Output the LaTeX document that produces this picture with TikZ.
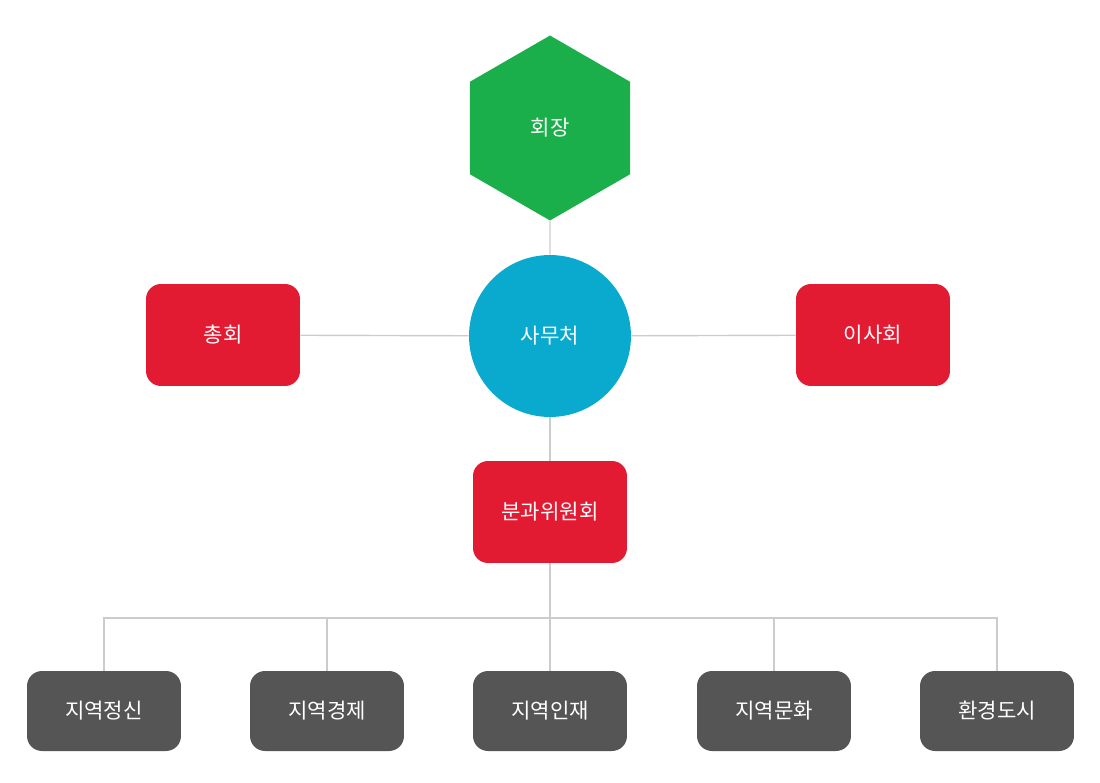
\documentclass[tikz,border=0pt]{standalone}
\usepackage{fontspec}
\setmainfont{Noto Sans CJK KR}
\usetikzlibrary{shapes.geometric}
\definecolor{hexGreen}{HTML}{1BAF4B}
\definecolor{officeBlue}{HTML}{0AAACF}
\definecolor{boardRed}{HTML}{E31B32}
\definecolor{teamGray}{HTML}{555555}
\definecolor{lineGray}{HTML}{CCCCCC}
\begin{document}
\begin{tikzpicture}[x=0.02cm,y=-0.02cm]
\tikzstyle{base}=[text=white,font=\fontsize{12}{14}\selectfont,inner sep=0pt]
\tikzstyle{boxRed}=[base,fill=boardRed,rounded corners=0.3cm,minimum width=3.08cm,minimum height=2.04cm]
\tikzstyle{boxGray}=[base,fill=teamGray,rounded corners=0.3cm,minimum width=3.08cm,minimum height=1.6cm]
\tikzstyle{link}=[draw=lineGray,line width=0.8pt]

\useasboundingbox (0,0) rectangle (1100,782);

\node[base,fill=hexGreen,regular polygon,regular polygon sides=6,shape border rotate=30,minimum size=3.7cm] (chair) at (550,128) {회장};
\node[base,fill=officeBlue,circle,minimum size=3.24cm] (office) at (550,336) {사무처};
\node[boxRed] (general) at (223,335) {총회};
\node[boxRed] (board) at (873,335) {이사회};
\node[boxRed] (committee) at (550,512) {분과위원회};

\node[boxGray] (spirit) at (104,711) {지역정신};
\node[boxGray] (economy) at (327,711) {지역경제};
\node[boxGray] (talent) at (550,711) {지역인재};
\node[boxGray] (culture) at (774,711) {지역문화};
\node[boxGray] (city) at (997,711) {환경도시};

\coordinate (bus) at (550,618);

\begin{scope}[on background layer/.try]
\draw[link] (chair) -- (office);
\draw[link] (office) -- (general);
\draw[link] (office) -- (board);
\draw[link] (office) -- (committee);
\draw[link] (committee) -- (talent);
\foreach \t in {spirit,economy,culture,city}
  \draw[link] (bus) -| (\t);
\end{scope}
\end{tikzpicture}
\end{document}
